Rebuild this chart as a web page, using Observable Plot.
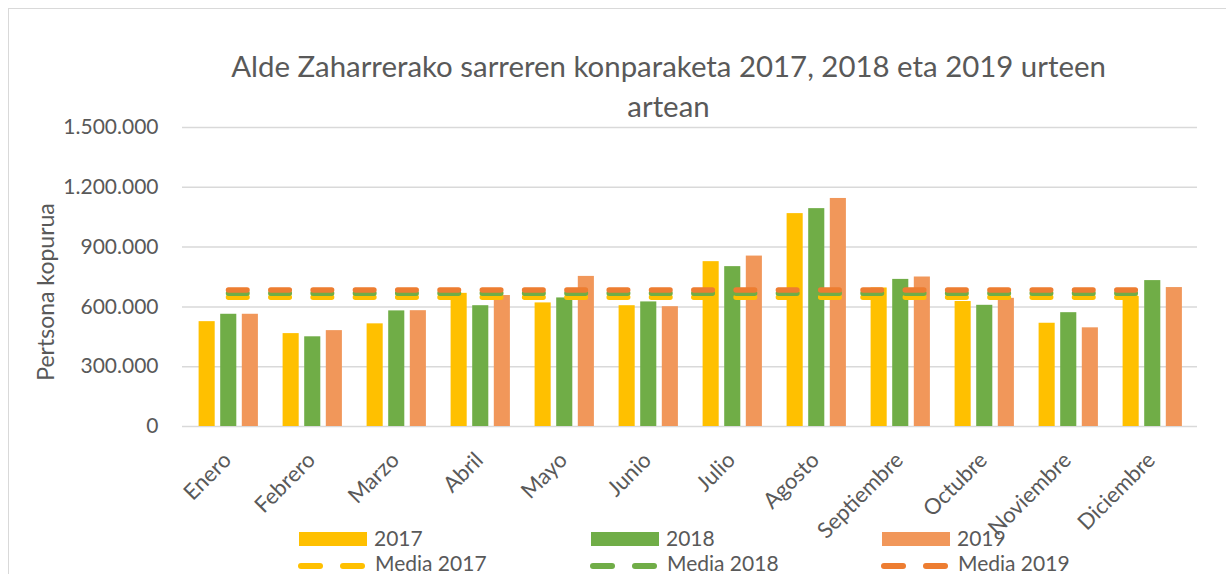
<!DOCTYPE html>
<html>
<head>
<meta charset="utf-8">
<script src="https://cdn.jsdelivr.net/npm/d3@7"></script>
<script src="https://cdn.jsdelivr.net/npm/@observablehq/plot@0.6"></script>
<style>
  html, body { margin: 0; padding: 0; background: #fff; }
  #wrap { position: relative; width: 1226px; height: 574px; overflow: hidden; font-family: Lato, "Open Sans", sans-serif; color: #595959; }
  #frame { position: absolute; left: 8px; top: 8px; width: 1300px; height: 700px; border-left: 1.5px solid #d9d9d9; border-top: 1.5px solid #d9d9d9; }
  #chart { position: absolute; left: 0; top: 0; }
  #title { position: absolute; left: 0; top: 45.5px; width: 1337px; text-align: center; font-size: 29.4px; line-height: 40px; white-space: nowrap; }
  #ytitle { position: absolute; left: 45px; top: 292px; transform: translate(-50%, -50%) rotate(-90deg); font-size: 23px; white-space: nowrap; }
  .sw { position: absolute; }
  .lt { position: absolute; font-size: 21px; line-height: 26px; white-space: nowrap; }
</style>
</head>
<body>
<div id="wrap">
  <div id="frame"></div>
  <div id="chart"></div>
  <div id="title">Alde Zaharrerako sarreren konparaketa 2017, 2018 eta 2019 urteen<br>artean</div>
  <div id="ytitle">Pertsona kopurua</div>
  <div id="legend"></div>
</div>
<script>
const months = ["Enero", "Febrero", "Marzo", "Abril", "Mayo", "Junio", "Julio", "Agosto", "Septiembre", "Octubre", "Noviembre", "Diciembre"];
const years = ["2017", "2018", "2019"];
const v2017 = [526000, 466000, 515000, 668000, 620000, 606000, 827000, 1068000, 695000, 627000, 518000, 652000];
const v2018 = [563000, 450000, 580000, 606000, 645000, 625000, 802000, 1093000, 738000, 608000, 571000, 732000];
const v2019 = [563000, 481000, 581000, 657000, 753000, 601000, 855000, 1144000, 750000, 643000, 495000, 697000];
const mean2017 = 649000;
const mean2018 = 668000;
const mean2019 = 685000;
const yTicks = [0, 300000, 600000, 900000, 1200000, 1500000];

const barColors = {"2017": "#FFC000", "2018": "#70AD47", "2019": "#F1975A"};
const meanColors = {"2017": "#FFC000", "2018": "#70AD47", "2019": "#ED7D31"};

const series = {"2017": v2017, "2018": v2018, "2019": v2019};
const means = {"2017": mean2017, "2018": mean2018, "2019": mean2019};
const rows = years.flatMap(y => months.map((m, i) => ({month: m, year: y, value: series[y][i]})));
const meanRows = years.flatMap(y => months.map(m => ({month: m, year: y, value: means[y]})));

const locale = d3.formatLocale({decimal: ",", thousands: ".", grouping: [3], currency: ["", ""]});
const fmt = locale.format(",");

const insets = {"2017": [12.6, 55.3], "2018": [34.2, 33.7], "2019": [55.8, 12.1]};

const chart = Plot.plot({
  width: 1226,
  height: 574,
  marginTop: 127,
  marginBottom: 148,
  marginLeft: 182,
  marginRight: 29,
  x: {type: "band", domain: months, padding: 0, label: null, axis: null},
  y: {domain: [0, 1500000], label: null},
  style: {fontFamily: "Lato, 'Open Sans', sans-serif", color: "#595959", background: "transparent", overflow: "visible"},
  marks: [
    Plot.ruleY(yTicks, {stroke: "#d9d9d9", strokeWidth: 1.5}),
    ...years.map(y => Plot.barY(rows.filter(d => d.year === y), {
      x: "month", y: "value", fill: barColors[y],
      insetLeft: insets[y][0], insetRight: insets[y][1]
    })),
    ...years.map(y => Plot.lineY(meanRows.filter(d => d.year === y), {
      x: "month", y: "value", stroke: meanColors[y], strokeWidth: 5.5,
      strokeLinecap: "round", strokeDasharray: "18.5,23.8"
    })),
    Plot.axisY({ticks: yTicks, tickSize: 0, tickPadding: 24, tickFormat: fmt, fontSize: 21, label: null}),
    Plot.text(months, {x: d => d, frameAnchor: "bottom", dx: -7, dy: 24, rotate: -45,
      textAnchor: "end", lineAnchor: "top", fontSize: 22, fill: "#595959"})
  ]
});
document.getElementById("chart").appendChild(chart);

// legend
const legend = document.getElementById("legend");
const cols = [299, 591, 882];
years.forEach((y, i) => {
  const x = cols[i];
  const sw = document.createElement("div");
  sw.className = "sw";
  Object.assign(sw.style, {left: x + "px", top: "532px", width: "68px", height: "14px", background: barColors[y]});
  legend.appendChild(sw);
  const t = document.createElement("div");
  t.className = "lt";
  Object.assign(t.style, {left: (x + 75) + "px", top: "525px"});
  t.textContent = y;
  legend.appendChild(t);
  [0, 42].forEach(off => {
    const d = document.createElement("div");
    d.className = "sw";
    Object.assign(d.style, {left: (x + off - 1) + "px", top: "563px", width: "25px", height: "6px", borderRadius: "3px", background: meanColors[y]});
    legend.appendChild(d);
  });
  const t2 = document.createElement("div");
  t2.className = "lt";
  Object.assign(t2.style, {left: (x + 76) + "px", top: "550px"});
  t2.textContent = "Media " + y;
  legend.appendChild(t2);
});
</script>
</body>
</html>
